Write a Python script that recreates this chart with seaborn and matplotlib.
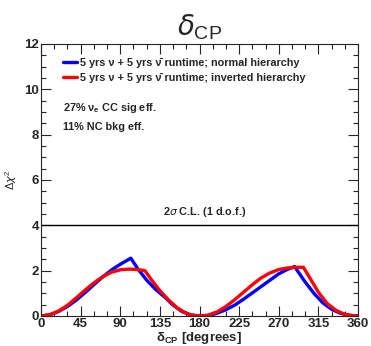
import matplotlib
matplotlib.use("Agg")
import matplotlib.pyplot as plt
from matplotlib.ticker import MultipleLocator
import seaborn as sns
import pandas as pd

# data (degrees, delta chi^2)
deg_nh = [0, 10, 20, 30, 40, 50, 60, 70, 80, 90, 102, 110, 120, 130, 140, 150, 160, 170, 180,
          190, 200, 210, 220, 230, 240, 250, 260, 270, 280, 288, 300, 310, 320, 330, 340, 350, 360]
chi_nh = [0, 0.05, 0.2, 0.42, 0.7, 1.03, 1.38, 1.72, 2.03, 2.28, 2.55, 2.08, 1.58, 1.18, 0.85, 0.48, 0.2, 0.05, 0,
          0.02, 0.12, 0.28, 0.48, 0.74, 1.02, 1.3, 1.58, 1.86, 2.06, 2.18, 1.5, 1.0, 0.58, 0.3, 0.12, 0.03, 0]
deg_ih = [0, 10, 20, 30, 40, 50, 60, 70, 80, 90, 100, 110, 118, 125, 135, 145, 155, 165, 172, 180,
          190, 200, 210, 220, 230, 240, 250, 260, 270, 280, 290, 298, 305, 315, 325, 335, 345, 355, 360]
chi_ih = [0, 0.06, 0.22, 0.47, 0.8, 1.14, 1.46, 1.73, 1.93, 2.04, 2.07, 2.05, 2.0, 1.62, 1.12, 0.7, 0.35, 0.12, 0.03, 0,
          0.04, 0.18, 0.42, 0.72, 1.05, 1.38, 1.68, 1.9, 2.05, 2.12, 2.15, 2.15, 1.7, 1.05, 0.55, 0.25, 0.07, 0.01, 0]
lab_nh = "5 yrs \u03bd + 5 yrs \u03bd\u0304 runtime; normal hierarchy"
lab_ih = "5 yrs \u03bd + 5 yrs \u03bd\u0304 runtime; inverted hierarchy"
cl_level = 4
xticks = [0, 45, 90, 135, 180, 225, 270, 315, 360]
yticks = [0, 2, 4, 6, 8, 10, 12]

df = pd.concat([
    pd.DataFrame({"deg": deg_nh, "chi2": chi_nh, "hier": lab_nh}),
    pd.DataFrame({"deg": deg_ih, "chi2": chi_ih, "hier": lab_ih}),
])

sns.set_style("ticks")
plt.rcParams["font.family"] = ["Liberation Sans", "DejaVu Sans"]
plt.rcParams["mathtext.fontset"] = "custom"
plt.rcParams["mathtext.rm"] = "Liberation Sans"
plt.rcParams["mathtext.bf"] = "Liberation Sans:bold"

fig = plt.figure(figsize=(3.71, 3.46), dpi=100)
ax = fig.add_axes([41/371, 1-316/346, 317/371, 272/346])

sns.lineplot(data=df, x="deg", y="chi2", hue="hier", palette=["#0000ff", "#ff0000"],
             linewidth=2.4, ax=ax, sort=False, estimator=None)
ax.axhline(cl_level, color="black", lw=1)

ax.set_xlim(0, 360)
ax.set_ylim(0, 12)
ax.set_xticks(xticks)
ax.set_yticks(yticks)
ax.xaxis.set_minor_locator(MultipleLocator(15))
ax.yaxis.set_minor_locator(MultipleLocator(0.5))
ax.tick_params(which="both", direction="in", top=True, right=True, labelsize=9.5, pad=1.5)
ax.tick_params(which="major", length=7, width=0.8)
ax.tick_params(which="minor", length=3.5, width=0.8)
for t in ax.get_xticklabels() + ax.get_yticklabels():
    t.set_fontweight("bold")
for s in ax.spines.values():
    s.set_linewidth(0.8)
    s.set_visible(True)

ax.set_xlabel(r"$\mathbf{\delta_{CP}}$ [degrees]", fontsize=9.5, fontweight="bold", labelpad=0)
ax.set_ylabel(r"$\Delta\chi^2$", fontsize=8)
ax.yaxis.set_label_coords(-0.068, 0.5)
ax.set_title(r"$\delta_{\mathregular{CP}}$", fontsize=20, pad=6)

leg = ax.legend(loc="upper left", bbox_to_anchor=(0.055, 0.965), frameon=False,
                fontsize=7.8, handlelength=1.35, handletextpad=0.25, labelspacing=0.5,
                borderaxespad=0)
for t in leg.get_texts():
    t.set_fontweight("bold")

ax.text(0.07, 0.765, r"27% $\mathregular{\nu_e}$ CC sig eff.", transform=ax.transAxes,
        fontsize=7.8, fontweight="bold", va="center")
ax.text(0.07, 0.695, "11% NC bkg eff.", transform=ax.transAxes,
        fontsize=7.8, fontweight="bold", va="center")
ax.text(186, cl_level + 0.3, r"2$\sigma$ C.L. (1 d.o.f.)", ha="center", va="bottom",
        fontsize=7.8, fontweight="bold")

fig.savefig("out.png", dpi=100)
